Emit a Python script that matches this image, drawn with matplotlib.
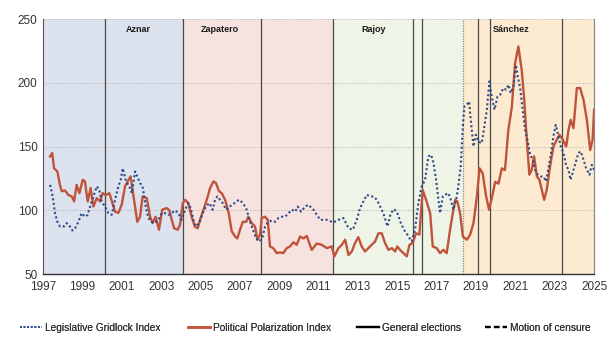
import numpy as np
import matplotlib
matplotlib.use("Agg")
import matplotlib.pyplot as plt
from matplotlib.lines import Line2D

plt.rcParams["font.family"] = ["Liberation Sans", "DejaVu Sans"]

# Legislative Gridlock Index (decimal year, value)
gridlock_x = [1997.36, 1997.49, 1997.61, 1997.73, 1997.86, 1998.07, 1998.2, 1998.37, 1998.49, 1998.63,
              1998.8, 1998.96, 1999.13, 1999.27, 1999.39, 1999.56, 1999.73, 1999.86, 1999.98, 2000.15,
              2000.32, 2000.49, 2000.66, 2000.83, 2000.95, 2001.05, 2001.22, 2001.39, 2001.51, 2001.68,
              2001.79, 2001.93, 2002.06, 2002.22, 2002.35, 2002.52, 2002.69, 2002.86, 2003.03, 2003.2,
              2003.37, 2003.54, 2003.71, 2003.88, 2004.05, 2004.22, 2004.38, 2004.5, 2004.64, 2004.77,
              2004.94, 2005.11, 2005.28, 2005.45, 2005.62, 2005.74, 2005.86, 2006.0, 2006.13, 2006.3,
              2006.47, 2006.64, 2006.81, 2006.98, 2007.15, 2007.32, 2007.49, 2007.66, 2007.83, 2008.0,
              2008.16, 2008.28, 2008.45, 2008.62, 2008.79, 2008.96, 2009.13, 2009.3, 2009.47, 2009.64,
              2009.81, 2009.94, 2010.11, 2010.31, 2010.48, 2010.74, 2011.08, 2011.42, 2011.75, 2012.01,
              2012.26, 2012.52, 2012.74, 2012.94, 2013.11, 2013.28, 2013.45, 2013.62, 2013.79, 2013.96,
              2014.13, 2014.29, 2014.5, 2014.67, 2014.84, 2015.0, 2015.18, 2015.34, 2015.51, 2015.73,
              2015.9, 2016.07, 2016.24, 2016.41, 2016.58, 2016.72, 2016.84, 2016.97, 2017.09, 2017.17,
              2017.31, 2017.43, 2017.6, 2017.72, 2017.85, 2017.99, 2018.1, 2018.22, 2018.33, 2018.41,
              2018.53, 2018.65, 2018.73, 2018.87, 2018.99, 2019.12, 2019.29, 2019.41, 2019.55, 2019.68,
              2019.8, 2019.94, 2020.09, 2020.22, 2020.39, 2020.53, 2020.65, 2020.76, 2020.9, 2021.03,
              2021.12, 2021.24, 2021.37, 2021.49, 2021.61, 2021.75, 2021.88, 2022.0, 2022.14, 2022.29,
              2022.42, 2022.56, 2022.68, 2022.8, 2022.93, 2023.05, 2023.19, 2023.31, 2023.44, 2023.58,
              2023.7, 2023.8, 2023.88, 2024.03, 2024.2, 2024.32, 2024.46, 2024.59, 2024.76, 2024.88,
              2025.0]
gridlock_y = [120, 111, 97.8, 91, 87.4, 87.4, 90, 87.4, 84.2, 86,
              91, 97.8, 95, 96.5, 103, 111, 118.8, 116, 107, 103,
              97.8, 96.5, 108.3, 118.8, 124, 133, 122.7, 118.8, 113.5, 130.5,
              126.6, 121.4, 118.8, 103, 94, 91, 90, 92.6, 97.8, 97.8,
              96.5, 97.8, 100, 97.8, 92.6, 100.5, 105.7, 101.8, 92.6, 87.4,
              90, 97.8, 103, 105.7, 100.5, 108.3, 111, 108.3, 105.7, 100.5,
              103, 104.4, 107, 108.3, 105.7, 101.8, 92.6, 84.8, 78, 75.6,
              79.5, 87.4, 91, 92, 91, 94, 95, 95, 97.8, 100.5,
              99, 103, 99, 103, 104.4, 100.5, 92.6, 92.6, 90.5, 92.6,
              94, 86, 84.8, 92.6, 101.8, 107, 112.2, 110.9, 110.9, 108.3,
              103, 97.8, 87.4, 97.8, 101, 97.8, 90, 84.8, 80.9, 75.6,
              84.8, 105.7, 118.8, 124, 142.3, 143.6, 137, 124, 108.3, 97.8,
              110.9, 112.2, 113.5, 108.3, 100.5, 108.3, 118.8, 134.4, 165.8, 181.5,
              182.8, 185.4, 171, 150.1, 159.3, 154, 152.7, 164.5, 178.9, 201.1,
              189, 179, 189.3, 190.6, 195.9, 194.6, 198.5, 192, 197.2, 214,
              205, 195.9, 178.9, 163.2, 155.3, 143.6, 139.7, 131.8, 127.9, 126.6,
              126.6, 122.7, 133.1, 143.6, 158, 167.1, 158, 150, 145, 135,
              131.8, 124, 128, 136, 144.9, 146.2, 139.7, 133.1, 127.9, 135.7,
              131.8]

# Political Polarization Index (decimal year, value)
polar_x = [1997.36, 1997.47, 1997.56, 1997.73, 1997.86, 1997.95, 1998.12, 1998.29, 1998.46, 1998.58,
           1998.71, 1998.85, 1999.02, 1999.13, 1999.27, 1999.42, 1999.56, 1999.73, 1999.9, 2000.03,
           2000.2, 2000.37, 2000.5, 2000.66, 2000.83, 2001.0, 2001.17, 2001.3, 2001.45, 2001.59,
           2001.79, 2001.93, 2002.06, 2002.27, 2002.44, 2002.57, 2002.72, 2002.89, 2003.06, 2003.28,
           2003.42, 2003.54, 2003.66, 2003.84, 2003.96, 2004.1, 2004.22, 2004.38, 2004.55, 2004.72,
           2004.86, 2004.98, 2005.15, 2005.32, 2005.49, 2005.66, 2005.79, 2005.94, 2006.08, 2006.25,
           2006.42, 2006.59, 2006.76, 2006.87, 2007.01, 2007.15, 2007.32, 2007.43, 2007.6, 2007.77,
           2007.89, 2008.03, 2008.11, 2008.28, 2008.42, 2008.53, 2008.7, 2008.87, 2009.04, 2009.21,
           2009.38, 2009.55, 2009.72, 2009.89, 2010.06, 2010.23, 2010.4, 2010.65, 2010.91, 2011.16,
           2011.42, 2011.67, 2011.8, 2012.01, 2012.18, 2012.35, 2012.52, 2012.69, 2012.85, 2013.02,
           2013.19, 2013.36, 2013.53, 2013.7, 2013.87, 2014.04, 2014.21, 2014.38, 2014.55, 2014.72,
           2014.89, 2015.0, 2015.14, 2015.31, 2015.48, 2015.62, 2015.78, 2015.95, 2016.12, 2016.29,
           2016.46, 2016.67, 2016.8, 2017.0, 2017.17, 2017.34, 2017.51, 2017.68, 2017.82, 2017.94,
           2018.05, 2018.19, 2018.33, 2018.53, 2018.7, 2018.87, 2019.04, 2019.18, 2019.34, 2019.5,
           2019.66, 2019.8, 2019.97, 2020.14, 2020.31, 2020.47, 2020.64, 2020.82, 2020.98, 2021.15,
           2021.32, 2021.45, 2021.58, 2021.71, 2021.83, 2021.95, 2022.09, 2022.22, 2022.34, 2022.46,
           2022.59, 2022.76, 2022.93, 2023.1, 2023.24, 2023.41, 2023.58, 2023.7, 2023.81, 2023.95,
           2024.12, 2024.29, 2024.46, 2024.63, 2024.8, 2024.92, 2025.0]
polar_y = [142.3, 145, 133, 130.5, 120, 115, 115.6, 112, 111, 107,
           120, 113.5, 124, 122.7, 107, 117.5, 103, 109.6, 107, 113.5,
           112, 113.5, 107, 99, 98, 104.5, 119, 122.7, 126.6, 112,
           91, 95, 110.9, 109.6, 95, 90, 95, 84.8, 100.5, 101.8,
           100, 92.6, 86, 84.8, 88.7, 105.7, 108.3, 105.7, 95, 87,
           86, 92.6, 100.5, 108.3, 117.5, 122.7, 121.4, 115, 113.5, 108.3,
           99, 83.5, 79.5, 78, 84.8, 91, 91, 95, 90, 87.4,
           77, 81, 94, 95, 92.6, 71.7, 70.4, 66.5, 67, 66.5,
           70.4, 71.7, 75, 73, 79.5, 78, 80, 69, 74, 73,
           70.4, 71.7, 63.9, 70.4, 73, 77, 65, 67.8, 74.3, 79,
           71.7, 67.8, 70.4, 73, 75.6, 82, 82, 74.3, 69, 70.4,
           67.8, 71.7, 69, 66.5, 63.9, 73, 74.3, 82, 81, 116,
           108.3, 97.8, 71.7, 70.4, 66.5, 69, 66.5, 84.8, 97.8, 108.3,
           107, 97.8, 79.5, 77, 81, 90, 110.6, 133, 129, 112,
           100.5, 109.4, 122.4, 121, 132.9, 131.6, 163, 181.2, 215, 228.5,
           210, 186.7, 155.3, 128, 131.8, 142.3, 126.6, 124, 116, 108.3,
           116, 134.4, 150, 155.3, 159.3, 155.3, 150, 163.2, 171, 164.5,
           195.9, 195.9, 186.7, 171, 147.3, 155.3, 179]

# Government periods
period_start = [1997.0, 2004.1, 2011.72, 2018.33]
period_end = [2004.1, 2011.72, 2018.33, 2025.0]
period_names = ["Aznar", "Zapatero", "Rajoy", "Sánchez"]
period_label_x = [2001.85, 2006.0, 2013.8, 2020.8]
period_colors = ["#dce3ee", "#f6e3df", "#eef4e6", "#fdebd1"]

election_dates = [2000.13, 2004.1, 2008.08, 2011.72, 2015.82, 2016.27, 2019.12, 2019.71, 2023.35]
censure_dates = [2018.33]

RED = "#c0533b"
BLUE = "#2b4a8a"

W, H = 610, 347
fig = plt.figure(figsize=(W / 100, H / 100), dpi=100)
ax = fig.add_axes([0.0705, 0.21, 0.9035, 0.735])

for s, e, c in zip(period_start, period_end, period_colors):
    ax.axvspan(s, e, color=c, lw=0, zorder=0)

for v in [100, 150, 200, 250]:
    ax.axhline(v, color="#b5b5b5", lw=0.7, ls=(0, (1, 1.5)), zorder=1)

for d in election_dates:
    ax.axvline(d, color="#4a4a4a", lw=0.9, zorder=2)
for d in censure_dates:
    ax.axvline(d, color="#8a8a8a", lw=0.9, ls=(0, (1, 1)), zorder=2)

ax.plot(polar_x, polar_y, color=RED, lw=1.7, zorder=3, solid_joinstyle="round")
ax.plot(gridlock_x, gridlock_y, color=BLUE, lw=1.5, ls=(0, (1, 1.2)), zorder=4)

for name, lx in zip(period_names, period_label_x):
    ax.text(lx, 241.5, name, ha="center", va="center", fontsize=6.5,
            fontweight="bold", color="#1a1a1a", zorder=5)

ax.set_xlim(1997, 2025)
ax.set_ylim(50, 250)
ax.set_xticks(np.arange(1997, 2026, 2))
ax.set_yticks([50, 100, 150, 200, 250])
ax.tick_params(length=0, labelsize=8.5, colors="#333333", pad=4)
ax.tick_params(axis="x", pad=5)

ax.spines["top"].set_visible(False)
ax.spines["right"].set_color("#8a8a8a")
ax.spines["right"].set_linewidth(0.9)
ax.spines["left"].set_color("#555555")
ax.spines["bottom"].set_color("#333333")
ax.spines["bottom"].set_linewidth(1.0)

# legend entries, each anchored at its own spot along the bottom
handles = [
    Line2D([], [], color=BLUE, lw=1.3, ls=(0, (1, 1))),
    Line2D([], [], color=RED, lw=1.8),
    Line2D([], [], color="black", lw=1.6),
    Line2D([], [], color="black", lw=1.6, ls=(0, (2.5, 1.5))),
]
labels = ["Legislative Gridlock Index", "Political Polarization Index",
          "General elections", "Motion of censure"]
legend_x = [20, 188, 357, 485]
for h, lab, lx in zip(handles, labels, legend_x):
    leg = fig.legend([h], [lab], loc="center left",
                     bbox_to_anchor=(lx / W, 1 - 328 / H),
                     frameon=False, fontsize=7.3, handlelength=2.2,
                     handletextpad=0.3, borderpad=0, borderaxespad=0,
                     labelcolor="#333333")
    fig.add_artist(leg)

fig.savefig("out.png", dpi=100)
